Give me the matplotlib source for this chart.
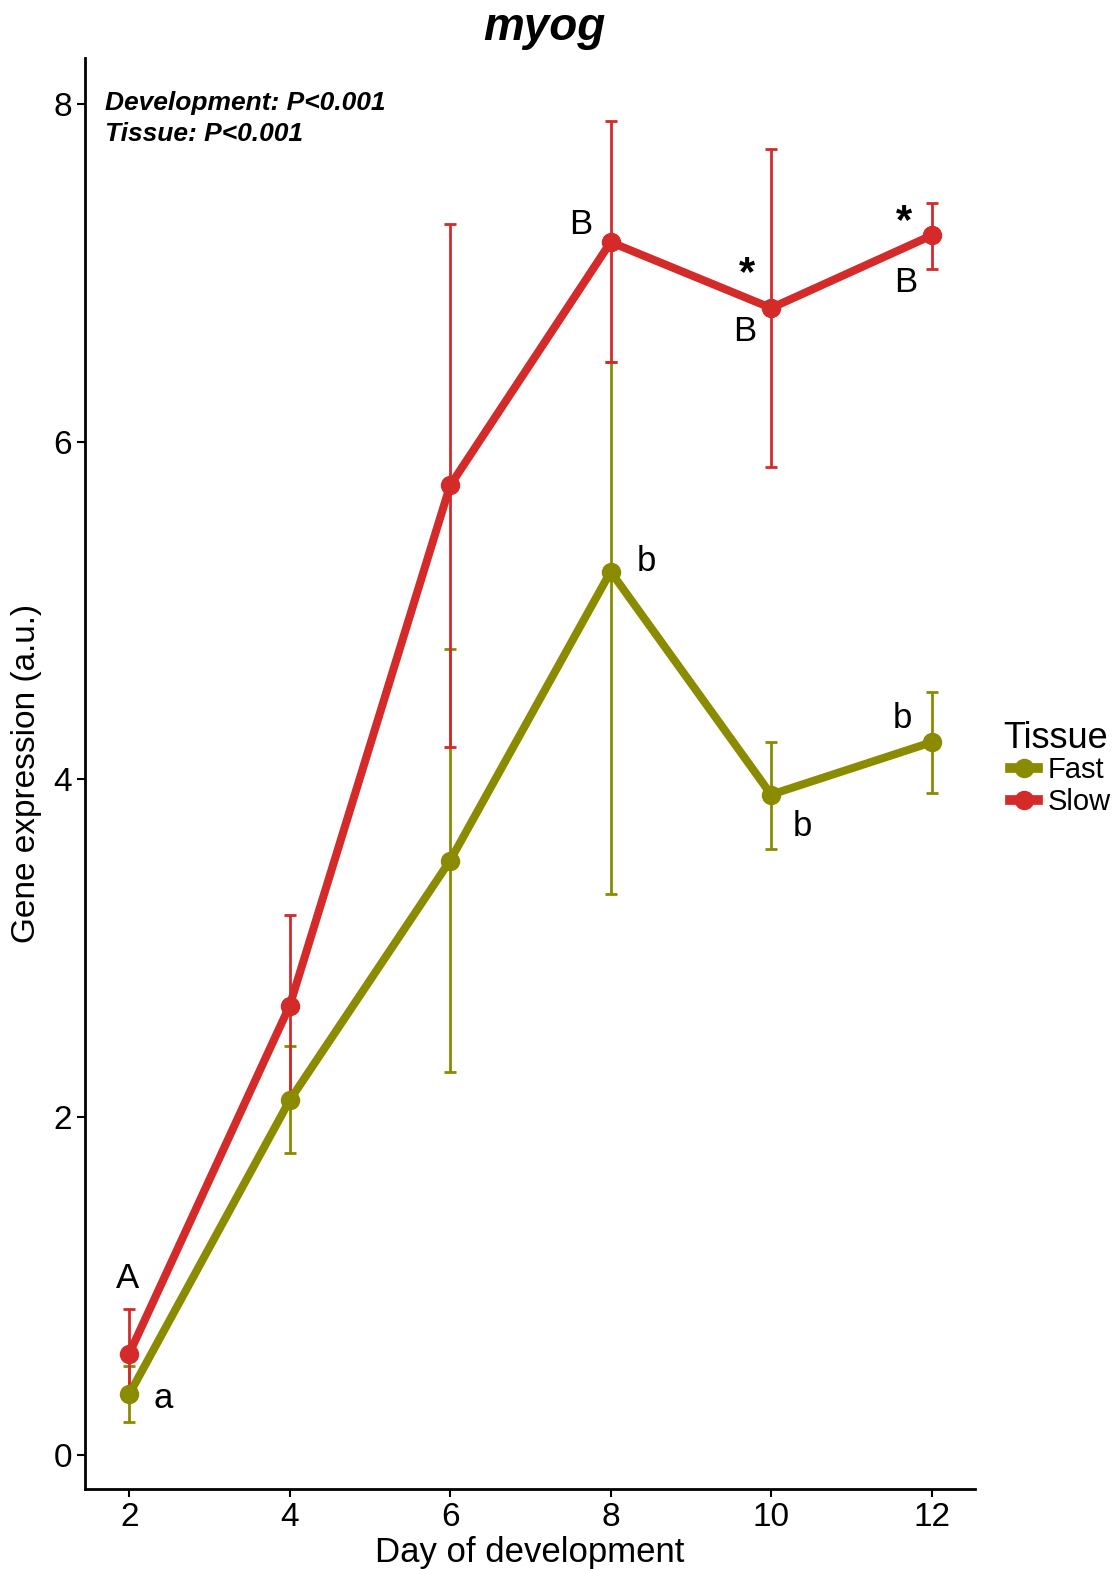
import matplotlib
matplotlib.use('Agg')
from matplotlib import pyplot as plt
from matplotlib.lines import Line2D

plt.rcParams['font.family'] = ['Liberation Sans', 'DejaVu Sans']

days = [2, 4, 6, 8, 10, 12]
fast_mean = [0.36, 2.10, 3.52, 5.23, 3.91, 4.22]
fast_lo = [0.195, 1.79, 2.27, 3.32, 3.59, 3.92]
fast_hi = [0.53, 2.42, 4.77, 6.47, 4.22, 4.52]
slow_mean = [0.60, 2.66, 5.74, 7.18, 6.79, 7.22]
slow_lo = [0.34, 2.13, 4.19, 6.47, 5.85, 7.02]
slow_hi = [0.864, 3.20, 7.29, 7.90, 7.73, 7.41]

fast_col = '#8B8B00'
slow_col = '#D42A2A'

# letters: (series, day index, text, dx px, dy px)
letters = [
    ('slow', 0, 'A', -2, 75),
    ('fast', 0, 'a', 34, -4),
    ('slow', 3, 'B', -30, 18),
    ('fast', 3, 'b', 36, 10),
    ('slow', 4, '*', -24, 34),
    ('slow', 4, 'B', -26, -23),
    ('slow', 5, '*', -28, 13),
    ('slow', 5, 'B', -26, -47),
    ('fast', 4, 'b', 31, -32),
    ('fast', 5, 'b', -29, 24),
]

fig = plt.figure(figsize=(11.12, 15.69), dpi=100)
ax = fig.add_axes([85 / 1112, 1 - 1489 / 1569, 890 / 1112, 1431 / 1569])

for mean, lo, hi, col in [(fast_mean, fast_lo, fast_hi, fast_col),
                          (slow_mean, slow_lo, slow_hi, slow_col)]:
    err = [[m - l for m, l in zip(mean, lo)], [h - m for m, h in zip(mean, hi)]]
    ax.errorbar(days, mean, yerr=err, fmt='none', ecolor=col, elinewidth=2,
                capsize=4, capthick=2, zorder=2)
    ax.plot(days, mean, '-o', color=col, lw=5.8, ms=13, zorder=3)

for series, i, txt, dx, dy in letters:
    y = slow_mean[i] if series == 'slow' else fast_mean[i]
    if txt == '*':
        ax.annotate(txt, (days[i], y), xytext=(dx, dy), textcoords='offset pixels',
                    ha='center', va='center', fontsize=30, fontweight='bold')
    else:
        ax.annotate(txt, (days[i], y), xytext=(dx, dy), textcoords='offset pixels',
                    ha='center', va='center', fontsize=25)

ax.set_xlim(1.45, 12.54)
ax.set_ylim(-0.2, 8.27)
ax.set_xticks(days)
ax.set_yticks([0, 2, 4, 6, 8])
ax.tick_params(labelsize=24, width=1.5, length=6, colors='black')
for s in ['top', 'right']:
    ax.spines[s].set_visible(False)
for s in ['left', 'bottom']:
    ax.spines[s].set_linewidth(2)

ax.set_xlabel('Day of development', fontsize=25, labelpad=2)
ax.set_ylabel('Gene expression (a.u.)', fontsize=24, labelpad=8)
fig.text(544 / 1112, 1 - 28 / 1569, 'myog', ha='center', va='center',
         fontsize=33, fontweight='bold', fontstyle='italic')
ax.text(0.022, 0.977, 'Development: P<0.001\nTissue: P<0.001', transform=ax.transAxes,
        ha='left', va='top', fontsize=19, fontweight='bold', fontstyle='italic',
        linespacing=1.35)

# legend: title drawn separately so the keys sit indented like ggplot
fig.text(1003 / 1112, 1 - 738 / 1569, 'Tissue', ha='left', va='center', fontsize=26)
handles = [Line2D([], [], color=fast_col, lw=7, marker='o', ms=13),
           Line2D([], [], color=slow_col, lw=7, marker='o', ms=13)]
leg = fig.legend(handles, ['Fast', 'Slow'], loc='upper left',
                 bbox_to_anchor=(1010 / 1112, 1 - 756 / 1569), frameon=False,
                 fontsize=21, handlelength=0.95, handletextpad=0.35,
                 labelspacing=0.15, borderpad=0, borderaxespad=0)

fig.savefig('out.png', dpi=100)
